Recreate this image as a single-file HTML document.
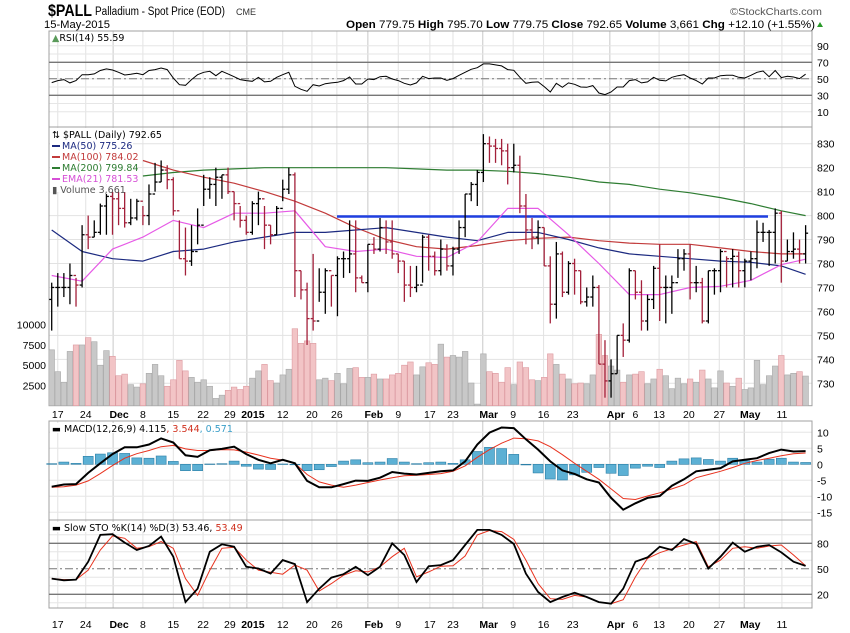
<!DOCTYPE html>
<html><head><meta charset="utf-8"><title>$PALL Palladium chart</title>
<style>
html,body{margin:0;padding:0;background:#fff;}
svg{display:block;font-family:"Liberation Sans",sans-serif;}
.lab{font-size:10.5px;fill:#000;}
.leg{font-family:"DejaVu Sans",sans-serif;font-size:9.5px;}
</style></head>
<body>
<svg id="chart" width="850" height="633" viewBox="0 0 850 633" xmlns="http://www.w3.org/2000/svg">
<rect x="0" y="0" width="850" height="633" fill="#fff"/>
<g>
<text x="48" y="16" font-size="17" font-weight="bold" textLength="44" lengthAdjust="spacingAndGlyphs">$PALL</text>
<text x="95" y="15" font-size="11.5" textLength="130" lengthAdjust="spacingAndGlyphs">Palladium - Spot Price (EOD)</text>
<text x="236" y="15" font-size="9" fill="#333">CME</text>
<text x="822" y="15" font-size="10.5" fill="#555" text-anchor="end" textLength="92" lengthAdjust="spacingAndGlyphs">©StockCharts.com</text>
<text x="44" y="28" font-size="11" textLength="66" lengthAdjust="spacingAndGlyphs">15-May-2015</text>
<text x="815" y="28" font-size="11" text-anchor="end" textLength="469" lengthAdjust="spacingAndGlyphs"><tspan font-weight="bold">Open</tspan> 779.75 <tspan font-weight="bold">High</tspan> 795.70 <tspan font-weight="bold">Low</tspan> 779.75 <tspan font-weight="bold">Close</tspan> 792.65 <tspan font-weight="bold">Volume</tspan> 3,661 <tspan font-weight="bold">Chg</tspan> +12.10 (+1.55%)</text>
<polygon points="817,27 823,27 820,22" fill="#2a9a2a"/>
</g>
<g id="grid"></g>
<g id="panels"></g>
<g id="marks"></g>
<g id="legends"></g>
</svg>
<script>
// ---- data (bar index 0 = 14-Nov-2014 ... 124 = 15-May-2015) ----
const highs=[772,776,776,780,774,796,800,798,805,809,813,810,813,807,807,804,813,822,823,821,816,798,795,796,803,817,816,820,817,820,810,804,800,806,810,804,796,804,815,820,818,777,772,784,778,778,775,783,785,798,798,775,788,791,799,798,798,784,781,779,779,792,792,785,790,788,787,798,809,814,819,834,833,832,832,830,830,825,809,799,798,795,783,789,785,781,782,777,770,775,771,748,740,750,755,778,777,773,767,779,788,775,775,786,786,788,779,774,777,778,786,783,786,785,782,785,798,797,794,803,802,790,793,790,796];
const lows=[752,762,766,763,762,770,786,791,792,792,792,796,795,796,798,796,796,810,814,811,800,782,775,779,788,804,807,804,807,809,798,795,792,792,796,786,788,792,806,809,766,765,746,752,764,759,762,758,774,776,768,772,768,784,785,784,782,776,764,766,768,772,777,775,775,777,775,784,791,806,804,814,822,822,821,813,818,801,788,786,788,779,755,757,766,767,767,763,762,762,738,724,724,734,741,747,765,752,752,761,756,755,759,774,777,765,768,755,755,767,768,770,770,770,770,773,778,789,779,780,772,781,782,780,780];
const closes=[770,770,770,775,771,792,791,793,804,808,807,803,797,799,806,800,809,814,819,815,802,782,781,785,796,811,813,816,817,810,805,798,793,805,807,796,792,803,811,817,777,769,757,756,768,777,775,782,782,784,774,772,788,786,795,789,784,781,771,770,771,791,783,777,786,779,786,795,809,813,818,830,829,828,827,820,821,804,794,791,795,779,763,784,768,780,777,764,766,770,738,731,734,750,748,777,768,756,765,778,770,770,772,782,784,772,772,756,777,777,785,782,783,777,781,782,793,793,793,801,781,785,786,784,792.65];
const volumes=[6.9,4.2,2.9,6.7,7.5,7.5,8.4,7.9,5.0,6.8,6.1,3.7,3.9,2.6,2.3,2.7,4.0,5.1,3.7,2.4,3.2,5.6,4.3,3.5,2.9,3.2,2.4,0.9,1.3,1.9,2.3,2.0,2.4,3.4,4.3,5.1,3.1,2.8,3.8,4.5,9.5,7.7,8.0,7.7,3.2,3.4,3.1,4.0,2.7,4.6,4.7,3.5,3.5,3.9,3.3,3.3,3.8,4.0,5.0,5.4,3.8,4.8,5.3,5.1,7.6,6.0,6.2,6.0,6.7,2.8,0.2,6.4,4.2,4.0,2.9,4.7,2.6,5.4,4.7,3.2,3.1,3.5,6.4,5.1,3.9,3.3,2.7,2.8,2.7,3.8,8.8,6.2,4.9,4.4,2.9,3.8,3.9,4.2,2.7,3.3,4.5,3.7,2.1,3.4,2.7,3.3,2.9,4.4,3.3,2.2,4.3,2.8,2.4,3.4,2.0,2.2,5.6,2.6,3.7,4.9,6.2,3.8,4.0,4.2,3.661];
// moving averages sampled every 5 bars (last sample = bar 124)
const ma50=[794,785,782,781,785,786,789,791,793,793,794,795,793,791,789.5,793,793,790,786.5,784,783,782,781,780.5,779,775.5];
const ma100=[null,null,null,823,819,816,813.5,810,806,801,795,790,787,786,787.5,789.5,790.5,791,789.5,788.5,788,788,786.5,785,784,784];
const ma200=[null,null,null,816.5,818,819,819.5,820,820,820,820,820,819.5,819,819,818.5,817.5,816,814,813,811,809.5,807.5,805,802,800];
const ema21=[775,772.6,786,791,798,795,801,801,802,787,785,786,783,782.5,789,803,803,792,780,767,767,770,770.5,773,779.5,781.8];
const rsi=[45.4,47.8,49,45,47.8,55,55,55.9,60,62,60.7,57.9,54.6,55.5,56.7,55,60,61.1,63.1,61.1,51,42.9,42.1,49,55,57.9,59.1,53.8,59.1,55.9,52.6,49,47.8,47,51.8,46.2,47,51.8,55,57.9,40.9,37.3,34.9,42.9,41.3,44.1,45,45.8,47.8,52.2,43.7,43.7,49.8,49,52.6,53,49.8,47.8,44.5,42.5,45,53,50.2,51,51,48.2,50.2,54.2,57.9,61.5,63.5,68,68,66.8,65.6,61.1,60.3,51.8,44.5,45.8,46.2,40.5,34,44.5,39.7,45,43.3,40.1,39.7,41.7,32.8,30.8,34,40.1,40.1,47.8,49,45,46.2,51.8,48.2,47.4,51.8,53.8,55,51,47.8,43.7,51,51,53.8,54.2,54.2,51.8,51,54.2,57.9,59.5,52.6,60,51.4,53,52.2,50.2,55.59];
// MACD / STO sampled every 2 bars
const macd=[-7.0,-6.3,-6.2,-2.7,0.3,3.2,5.3,5.3,6.2,8.1,6.8,2.8,2.3,4.4,4.8,5.5,3.2,1.4,0.3,1.4,0.3,-5.2,-7.2,-7.2,-6.2,-5.1,-5.2,-4.2,-2.4,-2.9,-3.2,-2.7,-2.2,-1.9,0.9,6.2,9.9,11.5,11.3,7.8,4.6,0.9,-1.9,-3.0,-4.7,-5.7,-10.5,-14.2,-12.2,-10.5,-9.9,-6.7,-4.7,-2.2,-1.7,-1.2,0.9,1.4,1.9,3.5,4.6,4.0,4.115];
const signal=[-7.2,-7.0,-6.5,-5.2,-2.9,-0.4,1.9,3.3,4.3,5.5,5.9,4.8,4.3,4.3,4.6,4.5,3.8,2.9,1.9,1.3,0.3,-3.2,-5.5,-6.5,-7.2,-6.5,-5.7,-4.9,-4.2,-3.6,-3.4,-3.2,-2.9,-2.2,-0.5,2.2,4.6,6.6,8.2,8.0,7.3,5.5,3.0,0.3,-2.2,-4.7,-7.7,-10.7,-11.0,-9.9,-8.9,-7.7,-6.4,-4.2,-3.2,-2.2,-1.0,0.3,1.2,1.9,2.7,3.3,3.544];
const stoK=[38.5,36.5,37.3,58.3,89.9,90.7,80.8,72.1,76.8,87.9,64.2,10.8,26.6,70.1,78.8,76,52.3,50.4,44.4,60.2,55.5,10.8,26.6,39.7,43.6,52.3,42.5,52.3,80,66.2,34.5,53.1,54.3,60.2,78,95.8,95.8,89.9,79.2,44.4,22.7,10.8,16.8,21.9,16.8,10.8,8.9,26.6,58.3,63.4,76,72.1,85.1,79.2,50.4,64.2,80.8,70.1,76,78,69.3,58.3,53.46];
const stoD=[38.5,37.3,37.3,48.4,72.1,88.7,85.9,74.1,76,82,74.1,38.5,18.7,48.4,74.1,75.3,60.2,48.4,46,43.6,54.3,48.4,23.9,32.6,42.5,47.6,46.4,52.3,64.2,74.1,40.5,46.4,53.1,53.5,65,89.9,95,93.8,84.7,60.2,32.6,14.8,14,18.7,16.8,10.8,8.9,13.6,40.5,62.2,68.9,73.7,78,82,52.3,60.2,74.1,76,74.1,76.8,78,66.2,53.49];
// x-axis ticks (bar index of each label)
const xTickLabels=["17","24","Dec","8","15","22","29","2015","12","20","26","Feb","9","17","23","Mar","9","16","23","Apr","6","13","20","27","May","11"];
const xTickBars=[1,5.6,10.1,15,20,24.9,29.3,32.1,38,42.8,46.9,52,57,62.2,66,70.9,75.9,80.9,85.7,91.8,96,99.9,104.8,109.8,113.9,120.1];
const xTickBold=[0,0,1,0,0,0,0,1,0,0,0,1,0,0,0,1,0,0,0,1,0,0,0,0,1,0];
const priceTicks=[730,740,750,760,770,780,790,800,810,820,830];
const volTicks=[2500,5000,7500,10000];
const rsiTicks=[90,70,50,30,10];
const macdTicks=[10,5,0,-5,-10,-15];
const stoTicks=[80,50,20];

// ---- scales ----
const L=49,R=812;
const xs=i=>51.7+6.08*i;
const yP=v=>143.7+(830-v)*2.396;
const yV=v=>405.7-v*8.1; // thousands
const yR=v=>62.3+(70-v)*0.825;
const yM=v=>464.3-v*3.2;
const yS=v=>543.3+(80-v)*0.85;
const NS="http://www.w3.org/2000/svg";
function mk(tag,attrs,parent){const e=document.createElementNS(NS,tag);for(const k in attrs)e.setAttribute(k,attrs[k]);parent.appendChild(e);return e;}
const G=document.getElementById('grid'),P=document.getElementById('panels'),M=document.getElementById('marks'),LG=document.getElementById('legends');

const panels=[[31,127],[127,405.7],[421,520],[520,608]];
xTickBars.forEach((b,k)=>{if(xTickLabels[k]==="6")return;panels.forEach(pp=>{
 const ln=mk('line',{x1:xs(b),x2:xs(b),y1:pp[0],y2:pp[1],stroke:xTickBold[k]?'#c8c8c8':'#e2e2e2','stroke-width':1},G);
 
 
});});
priceTicks.forEach(v=>{const ln=mk('line',{x1:L,x2:R,y1:yP(v),y2:yP(v),stroke:'#e2e2e2'},G);
 
 });
[10,20,30,40,50,60,70,80,90].forEach(v=>{const ln=mk('line',{x1:L,x2:R,y1:yR(v),y2:yR(v),stroke:'#e6e6e6'},G);
 
 });
[10,5,0,-5,-10,-15].forEach(v=>{const ln=mk('line',{x1:L,x2:R,y1:yM(v),y2:yM(v),stroke:'#e6e6e6'},G);
 
 });
[10,30,40,60,70,90].forEach(v=>{const ln=mk('line',{x1:L,x2:R,y1:yS(v),y2:yS(v),stroke:'#e6e6e6'},G);
 
 });

panels.forEach(pp=>{const r=mk('rect',{x:L,y:pp[0],width:R-L,height:pp[1]-pp[0],fill:'none',stroke:'#a0a0a0'},P);
 
 });
[[yR(70),'solid'],[yR(30),'solid'],[yR(50),'dash'],[yS(80),'solid'],[yS(20),'solid'],[yS(50),'dash']].forEach(a=>{
 const ln=mk('line',{x1:L,x2:R,y1:a[0],y2:a[0],stroke:'#777','stroke-width':a[1]==='dash'?1:1.3},P);
 if(a[1]==='dash')ln.setAttribute('stroke-dasharray','8,3,2,3');
 
 
});

function lab(x,y,t,anchor,cls,bold,name){const e=mk('text',{x:x,y:y,'text-anchor':anchor,class:cls},P);if(bold)e.setAttribute('font-weight','bold');e.textContent=t;
 
 
 return e;}
priceTicks.forEach(v=>lab(817,yP(v)+4,String(v),'start','lab',0,'price-tick-label'));
volTicks.forEach(v=>lab(46,yV(v/1000)+4,String(v),'end','lab',0,'volume-tick-label'));
rsiTicks.forEach(v=>lab(817,yR(v)+4,String(v),'start','lab',0,'rsi-tick-label'));
macdTicks.forEach(v=>lab(817,yM(v)+4,String(v),'start','lab',0,'macd-tick-label'));
stoTicks.forEach(v=>lab(817,yS(v)+4,String(v),'start','lab',0,'sto-tick-label'));
xTickLabels.forEach((t,k)=>{
 lab(xs(xTickBars[k])+(xTickBold[k]?6:0),418,t,'middle','lab',xTickBold[k],'x-axis-label-top');
 lab(xs(xTickBars[k])+(xTickBold[k]?6:0),628,t,'middle','lab',xTickBold[k],'x-axis-label-bottom');
});

volumes.forEach((v,i)=>{const up=i===0?true:closes[i]>=closes[i-1];
 const r=mk('rect',{x:xs(i)-2.8,y:yV(v),width:5.6,height:405.7-yV(v),fill:up?'#c8c8c8':'#f2c4c6',stroke:up?'#a8a8a8':'#dc9aa0','stroke-width':0.6},M);
 
 });

const res=mk('line',{x1:337,x2:768,y1:yP(799.6),y2:yP(799.6),stroke:'#1f3fe0','stroke-width':2.5},M);



function maPath(arr,color,name,w){let d='';arr.forEach((v,k)=>{if(v===null)return;const i=Math.min(k*5,124);d+=(d?'L':'M')+xs(i).toFixed(1)+','+yP(v).toFixed(1);});
 const p=mk('path',{d:d,fill:'none',stroke:color,'stroke-width':w||1.2,'stroke-linejoin':'round'},M);
 
 }
maPath(ma200,'#2e7d32','ma200-line');
maPath(ma100,'#c23b3b','ma100-line');
maPath(ma50,'#1c2a80','ma50-line');
maPath(ema21,'#e65ae6','ema21-line');

closes.forEach((c,i)=>{const o=i===0?765:closes[i-1];const col=c>=o?'#000':'#a3203a';const x=xs(i);
 const g=mk('g',{stroke:col,'stroke-width':1.3},M);
 
 
 mk('line',{x1:x,x2:x,y1:yP(highs[i]),y2:yP(lows[i])},g);
 mk('line',{x1:x-2.5,x2:x,y1:yP(o),y2:yP(o)},g);
 mk('line',{x1:x,x2:x+2.5,y1:yP(c),y2:yP(c)},g);
});

let d='';rsi.forEach((v,i)=>{d+=(i?'L':'M')+xs(i).toFixed(1)+','+yR(v).toFixed(1);});
const rl=mk('path',{d:d,fill:'none',stroke:'#000','stroke-width':1},M);



macd.forEach((v,k)=>{const h=v-signal[k];const y0=yM(0),y1=yM(h);
 const r=mk('rect',{x:xs(k*2)-5,y:Math.min(y0,y1),width:10,height:Math.max(Math.abs(y1-y0),0.5),fill:'#5cb0d4',stroke:'#2a7ea6','stroke-width':0.6},M);
 
 });
function line2(arr,yf,color,w,name){let dd='';arr.forEach((v,k)=>{dd+=(k?'L':'M')+xs(Math.min(k*2,124)).toFixed(1)+','+yf(v).toFixed(1);});
 const p=mk('path',{d:dd,fill:'none',stroke:color,'stroke-width':w},M);
 
 }
line2(signal,yM,'#e8321e',1,'macd-signal-line');
line2(macd,yM,'#000',2,'macd-line');
line2(stoD,yS,'#e8321e',1,'sto-d-line');
line2(stoK,yS,'#000',1.8,'sto-k-line');

function legText(x,y,parts,name){const t=mk('text',{x:x,y:y,class:'leg'},LG);
 parts.forEach(p=>{const s=mk('tspan',{fill:p[1]},t);s.textContent=p[0];});
 
 }
const bg=mk('rect',{x:50,y:128,width:83,height:64,fill:'#fff'},LG);


legText(52,138,[['⇅ $PALL (Daily) 792.65','#000']],'legend-price');
[['MA(50) 775.26','#1c2a80',149],['MA(100) 784.02','#c23b3b',160],['MA(200) 799.84','#2e7d32',171],['EMA(21) 781.53','#d64fd6',182]].forEach(a=>{
 const sw=mk('rect',{x:52,y:a[2]-4,width:8,height:2,fill:a[1]},LG);
 
 
 legText(62,a[2],[[a[0],a[1]]],'legend-entry');});
legText(52,193,[['▮ Volume 3,661','#555']],'legend-volume');
const rb=mk('rect',{x:50,y:32,width:52,height:10,fill:'#fff'},LG);


legText(52,41,[['▲','#5a9a5a'],['RSI(14) 55.59','#000']],'rsi-legend');
const mb=mk('rect',{x:50,y:423,width:175,height:10,fill:'#fff'},LG);


legText(52,432,[['▬ MACD(12,26,9) 4.115','#000'],[', 3.544','#d0301e'],[', 0.571','#3a9ec8']],'macd-legend');
const sb=mk('rect',{x:50,y:522,width:190,height:10,fill:'#fff'},LG);


legText(52,531,[['▬ Slow STO %K(14) %D(3) 53.46, ','#000'],['53.49','#d0301e']],'sto-legend');
</script>
</body></html>
